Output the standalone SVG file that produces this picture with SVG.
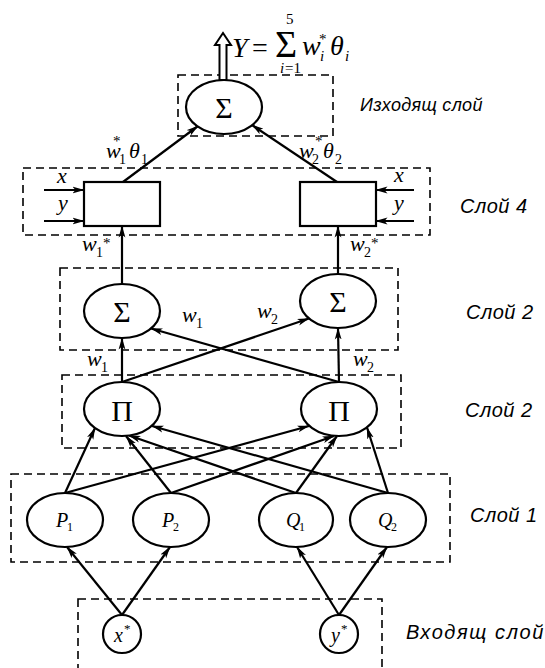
<svg xmlns="http://www.w3.org/2000/svg" width="545" height="668" viewBox="0 0 545 668">
  <style>
    .box { fill: none; stroke: #000; stroke-width: 1.6; stroke-dasharray: 8 5; }
    .node { fill: #fff; stroke: #000; stroke-width: 2.2; }
    .edge { fill: none; stroke: #000; stroke-width: 2.2; marker-end: url(#ah); }
    .op { font-family: "Liberation Serif", "Times New Roman", serif; font-size: 30px; text-anchor: middle; fill: #000; }
    .m { font-family: "Liberation Serif", "Times New Roman", serif; font-style: italic; font-size: 22px; fill: #000; }
    .mr { font-family: "Liberation Serif", "Times New Roman", serif; font-style: normal; font-size: 22px; fill: #000; }
    .s { font-family: "Liberation Serif", "Times New Roman", serif; font-style: normal; font-size: 14px; }
    .si { font-family: "Liberation Serif", "Times New Roman", serif; font-style: italic; font-size: 15px; }
    .st { font-family: "Liberation Serif", "Times New Roman", serif; font-style: normal; font-size: 15px; }
    .lbl { font-family: "Liberation Sans", Arial, sans-serif; font-style: italic; font-size: 20px; letter-spacing: 0.5px; fill: #000; }
  </style>
  <defs>
    <marker id="ah" viewBox="0 0 12 8" refX="11.5" refY="4" markerWidth="12" markerHeight="8" markerUnits="userSpaceOnUse" orient="auto">
      <path d="M0,0.6 L12,4 L0,7.4 L3,4 z" fill="#000"/>
    </marker>
  </defs>

  <!-- layer frames -->
  <g id="frames">
    <rect class="box" x="178" y="75" width="155" height="61"/>
    <rect class="box" x="23" y="168" width="407" height="67"/>
    <rect class="box" x="60" y="268" width="338" height="82"/>
    <rect class="box" x="62" y="375" width="339" height="73"/>
    <rect class="box" x="11" y="474" width="439" height="88"/>
    <rect class="box" x="78" y="599" width="304" height="90"/>
  </g>

  <!-- layer captions -->
  <g id="captions">
    <text class="lbl" x="360" y="111" style="font-size:18px;letter-spacing:0.3px">Изходящ слой</text>
    <text class="lbl" x="460" y="213">Слой 4</text>
    <text class="lbl" x="466" y="319">Слой 2</text>
    <text class="lbl" x="465" y="417">Слой 2</text>
    <text class="lbl" x="470" y="522">Слой 1</text>
    <text class="lbl" x="406" y="639" style="letter-spacing:1.6px">Входящ слой</text>
  </g>

  <!-- connectors -->
  <g id="connectors">
    <!-- input layer to layer 1 -->
    <line class="edge" x1="122" y1="615" x2="67" y2="547"/>
    <line class="edge" x1="122" y1="615" x2="170" y2="547"/>
    <line class="edge" x1="339" y1="615" x2="297" y2="547"/>
    <line class="edge" x1="339" y1="615" x2="387" y2="547"/>
    <!-- layer 1 to product nodes -->
    <line class="edge" x1="65" y1="493" x2="95" y2="428"/>
    <line class="edge" x1="65" y1="493" x2="309" y2="426"/>
    <line class="edge" x1="171" y1="493" x2="126" y2="436"/>
    <line class="edge" x1="171" y1="493" x2="334" y2="436"/>
    <line class="edge" x1="296" y1="493" x2="129" y2="435.5"/>
    <line class="edge" x1="296" y1="493" x2="337" y2="436"/>
    <line class="edge" x1="388" y1="493" x2="152" y2="426"/>
    <line class="edge" x1="388" y1="493" x2="367" y2="427.5"/>
    <!-- product nodes to sum nodes -->
    <line class="edge" x1="122" y1="382" x2="122" y2="338"/>
    <line class="edge" x1="339" y1="382" x2="338" y2="328"/>
    <line class="edge" x1="122" y1="382" x2="309" y2="318.5"/>
    <line class="edge" x1="339" y1="382" x2="151" y2="328.5"/>
    <!-- sum nodes to layer 4 blocks -->
    <line class="edge" x1="122" y1="284" x2="122" y2="226"/>
    <line class="edge" x1="338" y1="274" x2="338" y2="226"/>
    <!-- x, y inputs of layer 4 blocks -->
    <line class="edge" x1="44" y1="190" x2="84" y2="190"/>
    <line class="edge" x1="44" y1="221" x2="84" y2="221"/>
    <line class="edge" x1="414" y1="190" x2="376" y2="190"/>
    <line class="edge" x1="414" y1="221" x2="376" y2="221"/>
    <!-- layer 4 blocks to output sum -->
    <line class="edge" x1="123" y1="182" x2="198" y2="126"/>
    <line class="edge" x1="337" y1="182" x2="252" y2="125"/>
    <!-- output (hollow arrow) -->
    <polygon points="219.5,80 219.5,45 215,45 223,33 231,45 226.5,45 226.5,80" fill="#fff" stroke="#000" stroke-width="2"/>
  </g>

  <!-- weight labels -->
  <g id="weights">
    <text class="m" x="106" y="158">w<tspan class="st" x="113" y="146">*</tspan><tspan class="s" x="119" y="164">1</tspan><tspan x="129" y="158">θ</tspan><tspan class="s" x="141" y="164">1</tspan></text>
    <text class="m" x="299" y="158">w<tspan class="st" x="315" y="146">*</tspan><tspan class="s" x="312" y="164">2</tspan><tspan x="323" y="158">θ</tspan><tspan class="s" x="335" y="164">2</tspan></text>

    <text class="m" x="82" y="251">w<tspan class="s" x="96" y="257">1</tspan><tspan class="st" x="103" y="248">*</tspan></text>
    <text class="m" x="350" y="251">w<tspan class="s" x="364" y="257">2</tspan><tspan class="st" x="371" y="248">*</tspan></text>

    <text class="m" x="182" y="322">w<tspan class="s" x="196" y="328">1</tspan></text>
    <text class="m" x="257" y="318">w<tspan class="s" x="271" y="324">2</tspan></text>

    <text class="m" x="87" y="366">w<tspan class="s" x="101" y="372">1</tspan></text>
    <text class="m" x="353" y="366">w<tspan class="s" x="367" y="372">2</tspan></text>

    <text class="m" x="57" y="183">x</text>
    <text class="m" x="58" y="210">y</text>
    <text class="m" x="394" y="182">x</text>
    <text class="m" x="394" y="210">y</text>
  </g>

  <!-- output formula -->
  <g id="formula">
    <text class="m" x="232" y="57" style="font-size:28px">Y<tspan class="mr" x="252" style="font-size:28px">=</tspan><tspan class="mr" x="275" style="font-size:38px">Σ</tspan><tspan class="st" x="286" y="24">5</tspan><tspan class="si" x="280" y="73">i</tspan><tspan class="st" x="285" y="73">=1</tspan><tspan x="302" y="55">w</tspan><tspan class="st" x="319" y="44">*</tspan><tspan class="si" x="320" y="61">i</tspan><tspan x="330" y="55">θ</tspan><tspan class="si" x="345" y="61">i</tspan></text>
  </g>

  <!-- nodes -->
  <g id="out-sum">
    <ellipse class="node" cx="224" cy="107" rx="38" ry="27"/>
    <text class="op" x="224" y="118">Σ</text>
  </g>
  <g id="block-1">
    <rect class="node" x="84" y="182" width="76" height="44"/>
  </g>
  <g id="block-2">
    <rect class="node" x="300" y="182" width="76" height="44"/>
  </g>
  <g id="sum-1">
    <ellipse class="node" cx="122" cy="311" rx="38" ry="27"/>
    <text class="op" x="122" y="322">Σ</text>
  </g>
  <g id="sum-2">
    <ellipse class="node" cx="338" cy="301" rx="38" ry="27"/>
    <text class="op" x="338" y="312">Σ</text>
  </g>
  <g id="prod-1">
    <ellipse class="node" cx="122" cy="409" rx="38" ry="27"/>
    <text class="op" x="122" y="421">Π</text>
  </g>
  <g id="prod-2">
    <ellipse class="node" cx="339" cy="409" rx="38" ry="27"/>
    <text class="op" x="339" y="421">Π</text>
  </g>
  <g id="p1">
    <ellipse class="node" cx="65" cy="520" rx="38" ry="27"/>
    <text class="m" x="56" y="527" style="font-size:20px">P<tspan class="s" x="67" y="531" style="font-size:12px">1</tspan></text>
  </g>
  <g id="p2">
    <ellipse class="node" cx="171" cy="520" rx="38" ry="27"/>
    <text class="m" x="162" y="527" style="font-size:20px">P<tspan class="s" x="173" y="531" style="font-size:12px">2</tspan></text>
  </g>
  <g id="q1">
    <ellipse class="node" cx="296" cy="520" rx="37" ry="27"/>
    <text class="m" x="286" y="527" style="font-size:20px">Q<tspan class="s" x="299" y="531" style="font-size:12px">1</tspan></text>
  </g>
  <g id="q2">
    <ellipse class="node" cx="388" cy="520" rx="38" ry="27"/>
    <text class="m" x="378" y="527" style="font-size:20px">Q<tspan class="s" x="391" y="531" style="font-size:12px">2</tspan></text>
  </g>
  <g id="in-x">
    <circle class="node" cx="122" cy="634" r="19"/>
    <text class="m" x="114" y="642" style="font-size:20px">x<tspan class="st" x="124" y="633" style="font-size:13px">*</tspan></text>
  </g>
  <g id="in-y">
    <circle class="node" cx="339" cy="634" r="19"/>
    <text class="m" x="331" y="642" style="font-size:20px">y<tspan class="st" x="341" y="633" style="font-size:13px">*</tspan></text>
  </g>
</svg>
